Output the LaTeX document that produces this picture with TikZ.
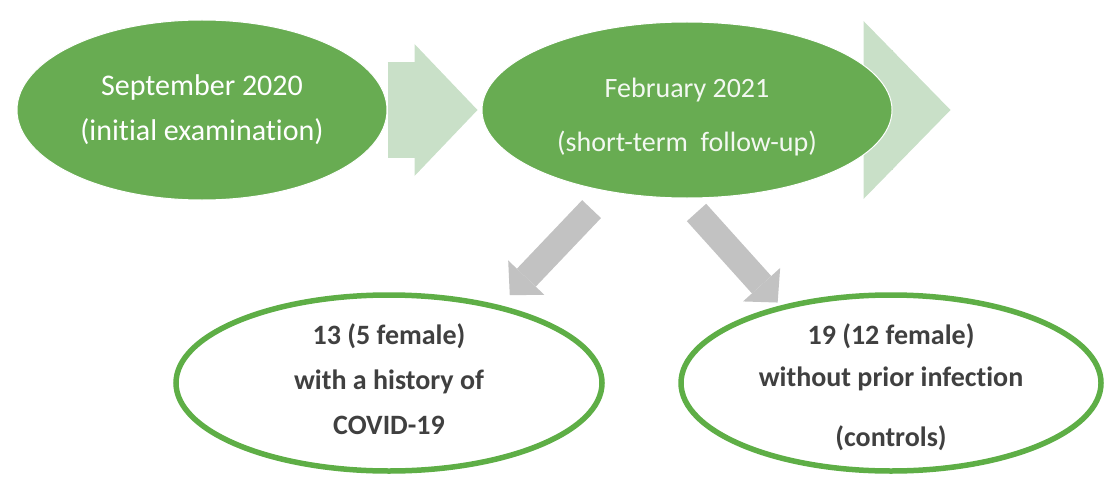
\documentclass[tikz,border=0pt]{standalone}
\usepackage{fontspec}
\setmainfont{Carlito}[Ligatures=NoCommon]
\usetikzlibrary{arrows.meta}
\usetikzlibrary{positioning}
\usetikzlibrary{shapes}
\usetikzlibrary{backgrounds}

\definecolor{leaf}{RGB}{104,172,82}
\definecolor{pale}{RGB}{201,224,200}
\definecolor{rim}{RGB}{94,174,70}
\definecolor{shade}{RGB}{194,194,194}
\definecolor{ink}{RGB}{64,64,64}

\begin{document}
\begin{tikzpicture}[x=0.5pt,y=-0.5pt,
    phase/.style={ellipse,fill=leaf,draw=white,line width=0.5pt,inner sep=0pt,align=center},
    group/.style={ellipse,draw=rim,line width=2.75pt,inner sep=-4pt,minimum height=88pt,align=center,text=ink},
    flow/.style={draw=pale},
    split/.style={draw=shade,line width=13pt,-{Triangle[length=12pt,width=25pt,line width=0pt]}}]
  \useasboundingbox (0,0) rectangle (1106,476);

  % time points
  \node[phase,minimum width=185pt,minimum height=90pt,text=white,font=\fontsize{15}{22.5}\selectfont] (sept) at (202,110) {September 2020\\(initial examination)};
  \node[phase,minimum width=205pt,minimum height=88pt,text=white!92!leaf,text height=44pt,font=\fontsize{14}{27}\selectfont] (feb) at (687,110) {February 2021\\(short-term~~follow-up)};
  \coordinate[right=29pt of feb.east] (next);

  % groups
  \node[group,minimum width=213pt,text depth=4pt,font=\bfseries\fontsize{14}{22.5}\selectfont] (hist) at (389,383) {13 (5 female)\\with a history of\\COVID-19};
  \node[group,minimum width=210pt,text height=65.5pt,font=\bfseries\fontsize{14}{21}\selectfont] (ctrl) at (891,383) {19 (12 female)\\without prior infection\\[9pt](controls)};

  \begin{scope}[on background layer]
    \draw[flow,line width=47.5pt,-{Triangle[length=31.5pt,width=66pt,line width=0pt]},shorten >=2pt] (sept) -- (feb.west);
    \draw[flow,line width=60pt,-{Triangle[length=43.5pt,width=89pt,line width=0pt]}] (feb) -- (next);
  \end{scope}

  \draw[split,shorten <=12pt,shorten >=7pt] (feb.226) -- (hist.35);
  \draw[split,shorten <=9.4pt,shorten >=2pt] (feb.268) -- (ctrl.145);
\end{tikzpicture}
\end{document}
